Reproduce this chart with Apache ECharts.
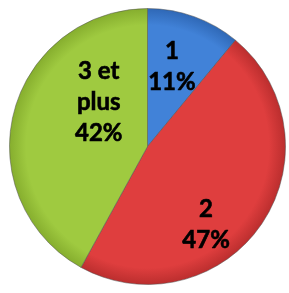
<!DOCTYPE html>
<html>
<head>
<meta charset="utf-8">
<script src="https://cdn.jsdelivr.net/npm/echarts@6/dist/echarts.min.js"></script>
<style>
  html, body { margin: 0; padding: 0; background: #fff; }
  #chart { width: 289px; height: 293px; }
</style>
</head>
<body>
<div id="chart"></div>
<script>
const categories = ['1', '2', '3 et\nplus']
const values = [11, 47, 42]
const colors = ['#4182d8', '#df3e3e', '#9fca40']
const edgeColors = ['#2f68b6', '#bb2e2e', '#86ae2e']
// nudges so the labels sit where they are in the picture
const labelShift = [[0, -12], [-1, 38], [21, -26]]

const chart = echarts.init(document.getElementById('chart'))

const option = {
  animation: false,
  series: [
    {
      type: 'pie',
      center: [147.5, 146.5],
      radius: 138,
      startAngle: 90,
      clockwise: true,
      label: {
        show: true,
        position: 'inside',
        formatter: p => p.name + '\n' + p.value + '%',
        fontFamily: 'Lato',
        fontWeight: 'bold',
        fontSize: 24,
        lineHeight: 31,
        color: '#000',
        textBorderColor: '#000',
        textBorderWidth: 0.6
      },
      labelLine: { show: false },
      labelLayout: p => ({ dx: labelShift[p.dataIndex][0], dy: labelShift[p.dataIndex][1] }),
      itemStyle: {
        borderColor: 'rgba(80,80,80,0.5)',
        borderWidth: 1
      },
      data: categories.map((c, i) => ({
        name: c,
        value: values[i],
        itemStyle: {
          color: {
            type: 'radial', x: 147.5, y: 146.5, r: 138, global: true,
            colorStops: [
              { offset: 0, color: colors[i] },
              { offset: 0.88, color: colors[i] },
              { offset: 1, color: edgeColors[i] }
            ]
          }
        }
      }))
    }
  ]
}
chart.setOption(option)
</script>
</body>
</html>
